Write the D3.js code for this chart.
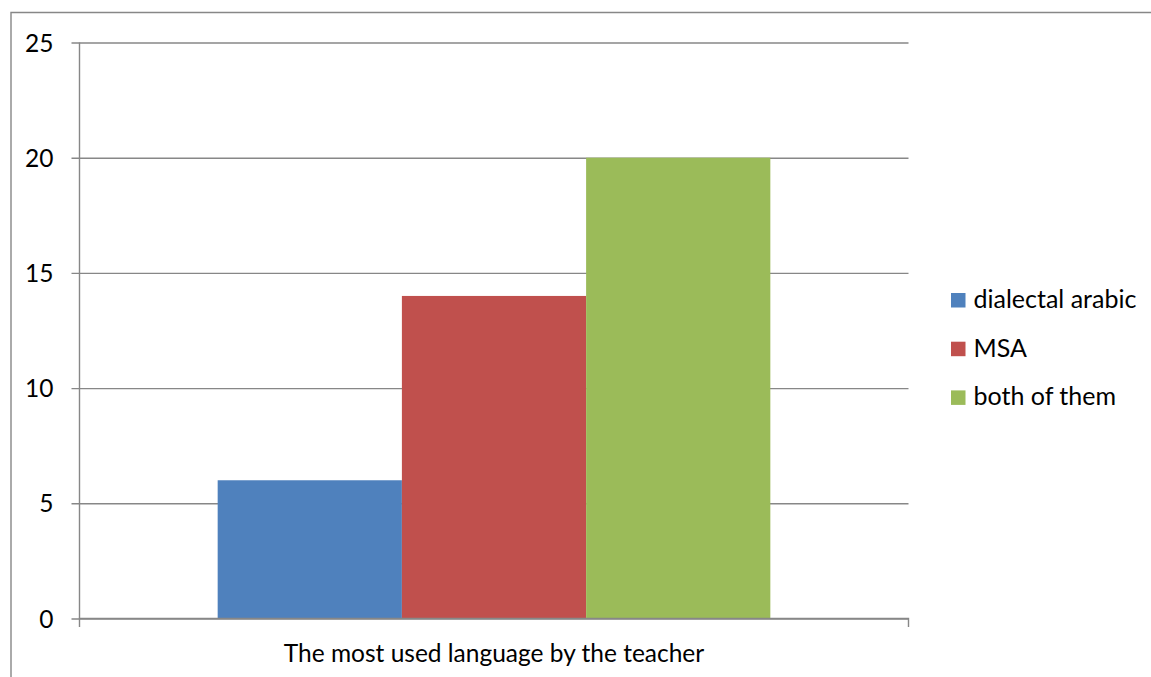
<!DOCTYPE html>
<html>
<head>
<meta charset="utf-8">
<script src="https://cdn.jsdelivr.net/npm/d3@7"></script>
<style>
  html, body { margin: 0; padding: 0; background: #fff; }
  svg { display: block; }
  text { font-family: Lato, "Open Sans", "DejaVu Sans", sans-serif; fill: #000; }
</style>
</head>
<body>
<svg id="chart" width="1151" height="677"></svg>
<script>
// Survey answers: which language the teacher uses most
const categories = ["The most used language by the teacher"];
const seriesNames = ["dialectal arabic", "MSA", "both of them"];
const seriesValues = [6, 14, 20];
const seriesColors = ["#4F81BD", "#C0504D", "#9BBB59"];
const yTicks = [0, 5, 10, 15, 20, 25];

const svg = d3.select("#chart");
const W = 1151, H = 677;
const plot = { left: 79.5, right: 908.5, top: 42.5, bottom: 618.5 };
const gridColor = "#878787";
const axisFont = 24.5;
const legendFont = 25;

// Outer chart frame (top and left edges visible)
svg.append("path")
  .attr("d", `M11,${H} V12.5 H${W}`)
  .attr("fill", "none")
  .attr("stroke", gridColor)
  .attr("stroke-width", 1.4);

const y = d3.scaleLinear().domain([0, 25]).range([plot.bottom, plot.top]);
const x0 = d3.scaleBand().domain(categories).range([plot.left, plot.right]).padding(0);
const x1 = d3.scaleBand().domain(seriesNames)
  .range([0, x0.bandwidth()])
  .paddingInner(0).paddingOuter(0.75);

// Horizontal gridlines with short ticks to the left of the axis
const yAxis = d3.axisLeft(y).tickValues(yTicks).tickSize(-(plot.right - plot.left)).tickPadding(18).tickFormat(d3.format("d"));
const gy = svg.append("g").attr("transform", `translate(${plot.left},0)`).call(yAxis);
gy.select(".domain").remove();
gy.selectAll(".tick line").attr("stroke", gridColor).attr("stroke-width", 1.4).attr("x1", -8);
gy.selectAll(".tick text").attr("font-size", axisFont).attr("x", -26).attr("dy", "0.35em").style("font-family", "Lato, sans-serif");

// Bars
const g = svg.append("g");
categories.forEach(cat => {
  g.selectAll(null)
    .data(seriesNames.map((s, i) => ({ s, v: seriesValues[i], c: seriesColors[i] })))
    .enter().append("rect")
    .attr("x", d => x0(cat) + x1(d.s))
    .attr("width", x1.bandwidth())
    .attr("y", d => y(d.v))
    .attr("height", d => y(0) - y(d.v))
    .attr("fill", d => d.c);
});

// Vertical axis line
svg.append("line")
  .attr("x1", plot.left).attr("x2", plot.left)
  .attr("y1", plot.top).attr("y2", plot.bottom)
  .attr("stroke", gridColor).attr("stroke-width", 1.4);

// Category axis
const xAxis = d3.axisBottom(x0).tickSize(0).tickPadding(0);
const gx = svg.append("g").attr("transform", `translate(0,${plot.bottom})`).call(xAxis);
gx.select(".domain").attr("stroke", gridColor).attr("stroke-width", 1.4)
  .attr("d", `M${plot.left},8.5V0H${plot.right}V8.5`);
gx.selectAll(".tick text").attr("font-size", axisFont).attr("y", 43.5).attr("dy", 0)
  .style("font-family", "Lato, sans-serif");

// Legend
const legend = svg.append("g").attr("transform", "translate(951,293)");
seriesNames.forEach((s, i) => {
  const row = legend.append("g").attr("transform", `translate(0,${i * 48.7})`);
  row.append("rect").attr("width", 14.5).attr("height", 14.5).attr("fill", seriesColors[i]);
  row.append("text").attr("x", 22.5).attr("y", 15).attr("font-size", legendFont).text(s);
});
</script>
</body>
</html>
